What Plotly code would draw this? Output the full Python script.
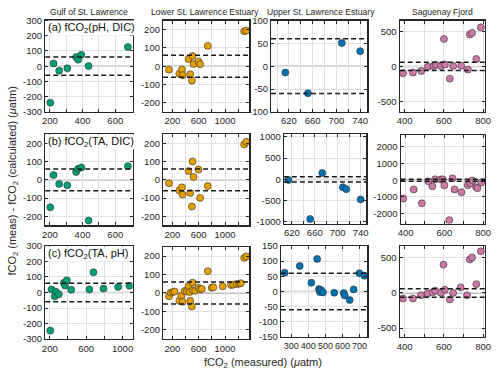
import plotly.graph_objects as go

# ---------------- data ----------------
regions = ["Gulf of St. Lawrence", "Lower St. Lawrence Estuary",
           "Upper St. Lawrence Estuary", "Saguenay Fjord"]
panel_labels = ["(a) fCO<sub>2</sub>(pH, DIC)", "(b) fCO<sub>2</sub>(TA, DIC)",
                "(c) fCO<sub>2</sub>(TA, pH)"]
colors = ["#009E73", "#E69F00", "#0072B2", "#CC79A7"]

gulf_x_ab = [203, 223, 257, 307, 361, 373, 393, 437, 677]
gulf_y_a = [-240, 18, -29, -14, 60, 43, 75, 1, 126]
gulf_y_b = [-150, 26, -23, -30, 43, 61, 68, -223, 75]
gulf_x_c = [205, 220, 255, 268, 300, 355, 368, 388, 436, 635, 680, 790, 950, 1075]
gulf_y_c = [-245, 20, -25, 5, -12, 62, 45, 78, 18, 20, 130, 25, 36, 43]

lower_x_ab = [150, 306, 346, 356, 446, 472, 497, 507, 522, 597, 622, 738, 1290, 1322]
lower_y_a = [-19, -42, -18, -49, 39, -44, -79, 56, 12, 26, 11, 111, 191, 196]
lower_y_b = [-19, -58, -41, -81, 48, -72, -146, 101, 16, 56, -99, -34, 194, 208]
lower_x_c = [150, 175, 210, 235, 306, 336, 356, 387, 422, 446, 462, 472, 497, 507, 512,
             547, 597, 622, 648, 738, 798, 823, 964, 1090, 1125, 1175, 1215, 1240, 1290, 1322]
lower_y_c = [-18, 2, 5, 8, -42, -16, -48, 11, 8, 37, 5, -42, -74, 56, 14,
             12, 28, 19, 22, 118, 28, 31, 36, 43, 45, 48, 50, 53, 190, 198]

upper_x_a = [614, 652, 709, 740]
upper_y_a = [-14, -59, 51, 33]
upper_x_b = [614, 652, 673, 709, 715, 740]
upper_y_b = [-15, -930, 150, -185, -230, -470]
upper_x_c = [262, 350, 418, 452, 462, 468, 474, 486, 552, 607, 613, 642, 665, 699, 728]
upper_y_c = [62, 84, 29, 107, 8, -2, 5, -3, -4, -5, -13, -28, 7, 60, 52]

sag_x_a = [392, 442, 485, 518, 547, 558, 585, 600, 605, 630, 647, 688, 722, 732, 743, 765, 788]
sag_y_a = [-97, -88, -65, -5, 5, 23, 5, 392, 28, -175, 5, 9, -46, 456, 479, 106, 558]
sag_x_b = [388, 442, 484, 517, 538, 552, 582, 592, 600, 625, 642, 652, 688, 720, 733, 745, 763, 770, 790]
sag_y_b = [-1100, -555, -1390, -70, -370, 50, 40, 50, -310, -2400, 110, -555, -720, -300, -200, -20, -420, -480, -140]
sag_x_c = [392, 442, 483, 517, 542, 555, 585, 598, 605, 630, 647, 685, 718, 732, 743, 765, 788]
sag_y_c = [-79, -79, -32, -9, 9, 32, 0, 403, 46, -93, 0, 79, -32, 477, 505, 125, 593]

limit_band = 60

# tick definitions: (labelled tick values, minor tick spacing)
xt_gulf_ab = ([200, 400, 600], 100)
xt_gulf_c = ([200, 600, 1000], 200)
xt_lower = ([200, 600, 1000], 200)
xt_upper_ab = ([620, 660, 700, 740], 20)
xt_upper_c = ([300, 400, 500, 600, 700], 100)
xt_sag = ([400, 600, 800], 100)

yt_300 = [-300, -200, -100, 0, 100, 200, 300]
yt_200 = [-200, -100, 0, 100, 200]
yt_100 = [-100, -50, 0, 50, 100]
yt_1000 = [-1000, -500, 0, 500, 1000]
yt_150 = [-150, -100, -50, 0, 50, 100, 150]
yt_500 = [-500, 0, 500]
yt_2000 = [-2000, -1000, 0, 1000, 2000]

W, H = 500, 381
# panels: (row, col, x, y, xrange, yrange, xticks, yticks, box px [l, r, t, b])
panels = [
    (0, 0, gulf_x_ab, gulf_y_a, [172, 706], [-300, 300], xt_gulf_ab, yt_300, [43, 132, 15, 109]),
    (0, 1, lower_x_ab, lower_y_a, [60, 1370], [-250, 250], xt_lower, yt_200, [163, 251, 15, 109]),
    (0, 2, upper_x_a, upper_y_a, [590, 752], [-100, 100], xt_upper_ab, yt_100, [273, 371, 15, 109]),
    (0, 3, sag_x_a, sag_y_a, [375, 810], [-650, 655], xt_sag, yt_500, [404, 491, 15, 109]),
    (1, 0, gulf_x_ab, gulf_y_b, [172, 706], [-250, 250], xt_gulf_ab, yt_200, [43, 132, 132, 226]),
    (1, 1, lower_x_ab, lower_y_b, [60, 1370], [-250, 250], xt_lower, yt_200, [163, 251, 132, 226]),
    (1, 2, upper_x_b, upper_y_b, [606, 750], [-1037, 1062], xt_upper_ab, yt_1000, [286, 370, 132, 224]),
    (1, 3, sag_x_b, sag_y_b, [375, 810], [-2600, 2700], xt_sag, yt_2000, [405, 491, 133, 224]),
    (2, 0, gulf_x_c, gulf_y_c, [150, 1110], [-300, 300], xt_gulf_c, yt_300, [43, 132, 247, 343]),
    (2, 1, lower_x_c, lower_y_c, [60, 1370], [-250, 250], xt_lower, yt_200, [163, 251, 248, 343]),
    (2, 2, upper_x_c, upper_y_c, [240, 745], [-150, 150], xt_upper_c, yt_150, [283, 371, 247, 341]),
    (2, 3, sag_x_c, sag_y_c, [375, 810], [-630, 670], xt_sag, yt_500, [404, 491, 247, 341]),
]
title_centers = [88, 206, 323.5, 447.5]

fig = go.Figure()
layout = {}
shapes = []
annotations = []
axcol = "#262626"
FONT = "Liberation Sans, Arial, sans-serif"

for i, (r, c, xs, ys, xr, yr, xt, yt, box) in enumerate(panels):
    n = i + 1
    xa = "x" if n == 1 else f"x{n}"
    ya = "y" if n == 1 else f"y{n}"
    l, rr, t, b = box
    fs = 9 if (r == 2 and c == 2) else 9.5
    common = dict(showline=True, mirror="ticks", linecolor=axcol, linewidth=1.2,
                  ticks="inside", ticklen=3, tickcolor=axcol, tickwidth=1,
                  showgrid=True, gridcolor="#e0e0e0", gridwidth=1, zeroline=False,
                  tickangle=0)
    layout["xaxis" if n == 1 else f"xaxis{n}"] = dict(
        domain=[l / W, rr / W], range=xr, anchor=ya,
        tickmode="array", tickvals=xt[0], ticktext=[str(v) for v in xt[0]],
        tickfont=dict(family=FONT, size=fs, color=axcol),
        minor=dict(dtick=xt[1], tick0=0, ticks="inside", ticklen=3, tickcolor=axcol,
                   showgrid=True, gridcolor="#e0e0e0", gridwidth=1),
        **common)
    layout["yaxis" if n == 1 else f"yaxis{n}"] = dict(
        domain=[1 - b / H, 1 - t / H], range=yr, anchor=xa,
        tickmode="array", tickvals=yt, ticktext=[str(v) for v in yt],
        tickfont=dict(family=FONT, size=9.5, color=axcol), **common)
    # zero line
    shapes.append(dict(type="line", xref=f"{xa} domain", yref=ya, x0=0, x1=1, y0=0, y1=0,
                       line=dict(color="#a6a6a6", width=1.5), layer="below"))
    for v in (limit_band, -limit_band):
        shapes.append(dict(type="line", xref=f"{xa} domain", yref=ya, x0=0, x1=1, y0=v, y1=v,
                           line=dict(color="#1a1a1a", width=1.5, dash="5px,3px"), layer="above"))
    fig.add_trace(go.Scatter(x=xs, y=ys, mode="markers", xaxis=xa, yaxis=ya,
                             marker=dict(size=7, color=colors[c],
                                         line=dict(color="#303030", width=0.6)),
                             showlegend=False, cliponaxis=True, hoverinfo="skip"))
    if r == 0:
        annotations.append(dict(text=regions[c], xref="paper", yref="paper",
                                x=title_centers[c] / W, y=1 - 6.5 / H, showarrow=False,
                                xanchor="center", yanchor="middle",
                                font=dict(family=FONT, size=8.6, color=axcol)))
    if c == 0:
        annotations.append(dict(text=panel_labels[r], xref="paper", yref="paper",
                                x=(l + 2) / W, y=1 - (t + 8) / H, showarrow=False,
                                xanchor="left", yanchor="middle", bgcolor="white",
                                borderpad=0,
                                font=dict(family=FONT, size=11, color="#111")))

annotations.append(dict(text="fCO<sub>2</sub> (meas) - fCO<sub>2</sub> (calculated) (<i>μ</i>atm)",
                        xref="paper", yref="paper", x=10 / W, y=1 - 180 / H, textangle=-90,
                        showarrow=False, xanchor="center", yanchor="middle",
                        font=dict(family=FONT, size=11, color=axcol)))
annotations.append(dict(text="fCO<sub>2</sub> (measured) (<i>μ</i>atm)",
                        xref="paper", yref="paper", x=265 / W, y=1 - 368 / H,
                        showarrow=False, xanchor="center", yanchor="middle",
                        font=dict(family=FONT, size=11, color=axcol)))

fig.update_layout(width=W, height=H, margin=dict(l=0, r=0, t=0, b=0),
                  paper_bgcolor="white", plot_bgcolor="white", hovermode=False,
                  shapes=shapes, annotations=annotations, **layout)
fig.write_html("out.html", config={"displayModeBar": False, "staticPlot": True},
               post_script="document.body.style.margin='0px';")
